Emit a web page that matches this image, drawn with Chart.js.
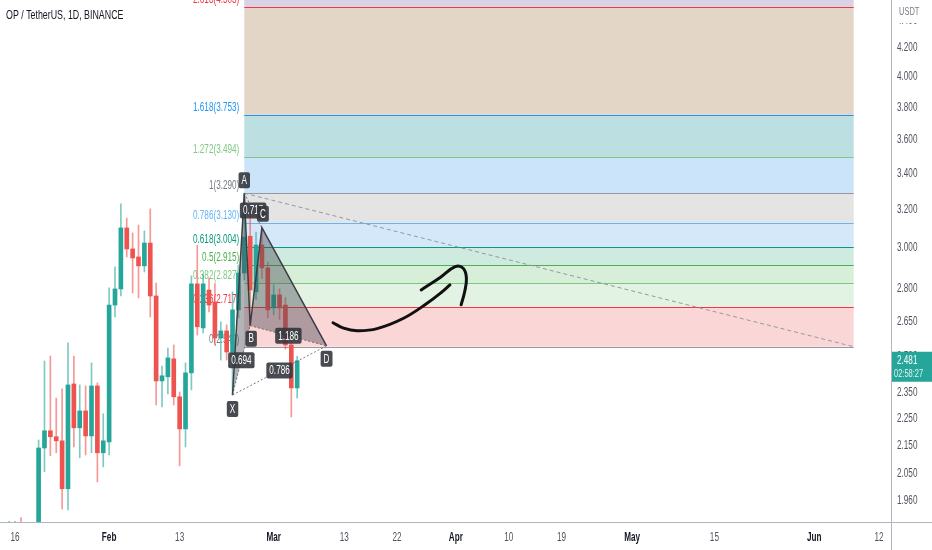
<!DOCTYPE html>
<html>
<head>
<meta charset="utf-8">
<script src="https://cdn.jsdelivr.net/npm/chart.js@4.4.0/dist/chart.umd.min.js"></script>
<style>
  html, body { margin: 0; padding: 0; background: #fff; }
  #wrap { width: 932px; height: 550px; }
</style>
</head>
<body>
<div id="wrap"><canvas id="chart" width="932" height="550"></canvas></div>
<script>
// daily candles, x = day of year 2023 (Jan 1 = 0)
const days   = [14, 15, 16, 17, 18, 19, 20, 21, 22, 23, 24, 25, 26, 27, 28, 29, 30, 31, 32, 33, 34, 35, 36, 37, 38, 39, 40, 41, 42, 43, 44, 45, 46, 47, 48, 49, 50, 51, 52, 53, 54, 55, 56, 57, 58, 59, 60, 61, 62, 63];
const opens  = [1.84, 1.86, 1.87, 1.81, 1.79, 1.80, 2.142, 2.205, 2.183, 2.168, 2.000, 2.386, 2.216, 2.280, 2.186, 2.378, 2.125, 2.164, 2.725, 2.800, 3.103, 2.995, 2.955, 2.911, 3.025, 2.767, 2.398, 2.415, 2.489, 2.335, 2.212, 2.431, 2.824, 2.622, 2.795, 2.739, 2.578, 2.609, 2.518, 2.703, 2.876, 3.060, 2.786, 3.015, 2.901, 2.712, 2.772, 2.725, 2.548, 2.370];
const highs  = [1.893, 1.893, 1.905, 1.87, 1.86, 2.171, 2.480, 2.501, 2.330, 2.366, 2.557, 2.501, 2.382, 2.378, 2.472, 2.390, 2.269, 2.805, 2.906, 3.231, 3.155, 3.077, 3.118, 3.087, 3.204, 2.828, 2.459, 2.535, 2.548, 2.354, 2.472, 2.862, 3.015, 2.870, 2.852, 2.828, 2.649, 2.636, 2.786, 2.915, 3.290, 3.200, 3.082, 3.104, 2.930, 2.820, 2.800, 2.760, 2.560, 2.500];
const lows   = [1.78, 1.80, 1.79, 1.76, 1.75, 1.78, 2.058, 2.114, 2.125, 1.933, 1.930, 2.146, 2.107, 2.117, 2.125, 2.023, 2.075, 2.117, 2.671, 2.767, 2.955, 2.781, 2.758, 2.881, 2.671, 2.303, 2.295, 2.346, 2.303, 2.079, 2.146, 2.362, 2.591, 2.600, 2.694, 2.548, 2.484, 2.484, 2.342, 2.667, 2.843, 2.636, 2.750, 2.850, 2.667, 2.680, 2.660, 2.530, 2.257, 2.330];
const closes = [1.86, 1.87, 1.81, 1.79, 1.80, 2.142, 2.205, 2.183, 2.168, 2.000, 2.382, 2.216, 2.280, 2.186, 2.378, 2.125, 2.168, 2.725, 2.800, 3.103, 2.995, 2.950, 2.911, 3.025, 2.767, 2.398, 2.419, 2.493, 2.335, 2.212, 2.431, 2.824, 2.627, 2.824, 2.725, 2.578, 2.609, 2.518, 2.703, 2.876, 3.056, 2.795, 3.015, 2.901, 2.703, 2.772, 2.712, 2.548, 2.370, 2.481];

const yTicks = [4.4, 4.2, 4.0, 3.8, 3.6, 3.4, 3.2, 3.0, 2.8, 2.65, 2.5, 2.35, 2.25, 2.15, 2.05, 1.96];
const xTickDays = [15, 31, 43, 59, 71, 80, 90, 99, 108, 120, 134, 151, 162];
const xTickLabels = ['16', 'Feb', '13', 'Mar', '13', '22', 'Apr', '10', '19', 'May', '15', 'Jun', '12'];
const monthLabels = ['Feb', 'Mar', 'Apr', 'May', 'Jun'];

// fib retracement drawn from A down to the right
const fibHigh = 3.290;
const fibLow = 2.5404;
const fibStartDay = 54;
const fibEndDay = 157.7;
const fibLevels = [0, 0.236, 0.382, 0.5, 0.618, 0.786, 1, 1.272, 1.618, 2.618, 3.618];
const fibLineColors = ['#9598a1', '#f23645', '#81c784', '#4caf50', '#089981', '#64b5f6', '#9598a1', '#81c784', '#2196f3', '#f23645', '#9c27b0'];
const fibZoneColors = ['rgba(247,180,182,0.55)', 'rgba(200,232,200,0.5)', 'rgba(176,222,180,0.5)', 'rgba(160,214,190,0.5)',
                       'rgba(178,214,245,0.55)', 'rgba(205,205,208,0.55)', 'rgba(160,205,245,0.55)', 'rgba(140,200,204,0.58)',
                       'rgba(206,180,152,0.55)', 'rgba(190,180,212,0.6)'];

// XABCD pattern
const patNames  = ['X', 'A', 'B', 'C', 'D'];
const patDays   = [52, 54, 55, 57, 68];
const patPrices = [2.342, 3.290, 2.632, 3.104, 2.544];
const patRatios = [['X', 'B', '0.694'], ['A', 'C', '0.717'], ['B', 'D', '1.186'], ['X', 'D', '0.786']];

// hand drawn arrow
const arrowDays1   = [69.1, 70.9, 73.2, 76.6, 81.1, 85.1, 87.7, 89.0];
const arrowPrices1 = [2.645, 2.621, 2.610, 2.619, 2.665, 2.733, 2.787, 2.819];
const arrowDays2   = [84.1, 87.4, 89.9, 91.25, 91.8, 91.5, 90.9];
const arrowPrices2 = [2.795, 2.856, 2.907, 2.899, 2.851, 2.787, 2.726];

const countdown = '02:58:27';

const up = '#26a69a', down = '#ef5350';
const isUp = i => closes[i] >= opens[i];
const fontFam = "'Liberation Sans', 'DejaVu Sans', sans-serif";
const SX = 0.68; // the screenshot is squeezed sideways, so text is too

// draw text squeezed horizontally around its anchor point
function textN(ctx, txt, x, y, align, baseline) {
  ctx.save();
  ctx.translate(x, y);
  ctx.scale(SX, 1);
  ctx.textAlign = align; ctx.textBaseline = baseline;
  ctx.fillText(txt, 0, 0);
  ctx.restore();
}

const overlay = {
  id: 'overlay',
  beforeDatasetsDraw(chart) {
    const { ctx, chartArea: a, scales: { x, y } } = chart;
    const x0 = x.getPixelForValue(fibStartDay), x1 = x.getPixelForValue(fibEndDay);
    const lv = l => y.getPixelForValue(fibLow + l * (fibHigh - fibLow));
    ctx.save();
    ctx.beginPath(); ctx.rect(a.left, a.top, a.right - a.left, a.bottom - a.top); ctx.clip();
    for (let i = 0; i < fibLevels.length - 1; i++) {
      const yb = lv(fibLevels[i]), yt = lv(fibLevels[i + 1]);
      ctx.fillStyle = fibZoneColors[i];
      ctx.fillRect(x0, yt, x1 - x0, yb - yt);
    }
    for (let i = 0; i < fibLevels.length - 1; i++) {
      const yy = Math.round(lv(fibLevels[i])) + 0.5;
      ctx.strokeStyle = fibLineColors[i]; ctx.lineWidth = 1;
      ctx.beginPath(); ctx.moveTo(x0, yy); ctx.lineTo(x1, yy); ctx.stroke();
    }
    ctx.restore();
    ctx.save();
    ctx.font = '12px ' + fontFam;
    for (let i = 0; i < fibLevels.length - 1; i++) {
      const p = fibLow + fibLevels[i] * (fibHigh - fibLow);
      ctx.fillStyle = fibLineColors[i] === '#9598a1' ? '#787b86' : fibLineColors[i];
      textN(ctx, fibLevels[i] + '(' + p.toFixed(3) + ')', x0 - 5, lv(fibLevels[i]) - 4, 'right', 'alphabetic');
    }
    // dashed trend line
    ctx.strokeStyle = '#9598a1'; ctx.lineWidth = 1; ctx.setLineDash([4, 3]);
    ctx.beginPath();
    ctx.moveTo(x0, y.getPixelForValue(fibHigh));
    ctx.lineTo(x1, y.getPixelForValue(fibLow));
    ctx.stroke();
    ctx.restore();
  },
  afterDatasetsDraw(chart) {
    const { ctx, scales: { x, y } } = chart;
    const pt = {};
    patNames.forEach((n, i) => { pt[n] = [x.getPixelForValue(patDays[i]), y.getPixelForValue(patPrices[i])]; });
    ctx.save();
    ctx.fillStyle = 'rgba(70,74,82,0.42)';
    [['X', 'A', 'B'], ['B', 'C', 'D']].forEach(t => {
      ctx.beginPath();
      ctx.moveTo(...pt[t[0]]); ctx.lineTo(...pt[t[1]]); ctx.lineTo(...pt[t[2]]); ctx.closePath();
      ctx.fill();
    });
    ctx.strokeStyle = '#3a3d45'; ctx.lineWidth = 1.5;
    ctx.beginPath();
    ctx.moveTo(...pt.X); ['A', 'B', 'C', 'D'].forEach(n => ctx.lineTo(...pt[n]));
    ctx.stroke();
    ctx.setLineDash([2, 2]); ctx.lineWidth = 1; ctx.strokeStyle = 'rgba(90,90,90,0.8)';
    patRatios.forEach(r => {
      ctx.beginPath(); ctx.moveTo(...pt[r[0]]); ctx.lineTo(...pt[r[1]]); ctx.stroke();
    });
    ctx.setLineDash([]);
    ctx.font = '12px ' + fontFam;
    const box = (cx, cy, txt, padX) => {
      const w = ctx.measureText(txt).width * SX + padX * 2, h = 16;
      ctx.fillStyle = 'rgba(52,55,62,0.9)';
      ctx.beginPath(); ctx.roundRect(cx - w / 2, cy - h / 2, w, h, 2); ctx.fill();
      ctx.fillStyle = '#fff';
      textN(ctx, txt, cx, cy + 0.5, 'center', 'middle');
    };
    patRatios.forEach(r => {
      const a = pt[r[0]], b = pt[r[1]];
      box((a[0] + b[0]) / 2, (a[1] + b[1]) / 2, r[2], 3);
    });
    const offs = { X: [0, 14], A: [0, -13], B: [1, 13], C: [1, -14], D: [0, 13] };
    patNames.forEach(n => box(pt[n][0] + offs[n][0], pt[n][1] + offs[n][1], n, 3));
    ctx.restore();
  },
  afterDraw(chart) {
    const { ctx, chartArea: a, scales: { x, y } } = chart;
    ctx.save();
    ctx.strokeStyle = '#b2b5be'; ctx.lineWidth = 1;
    ctx.beginPath();
    ctx.moveTo(a.right + 0.5, 0); ctx.lineTo(a.right + 0.5, chart.height);
    ctx.moveTo(0, a.bottom + 0.5); ctx.lineTo(chart.width, a.bottom + 0.5);
    ctx.stroke();
    // axis labels
    ctx.font = '12px ' + fontFam; ctx.fillStyle = '#50535e';
    yTicks.forEach(v => textN(ctx, v.toFixed(3), a.right + 6, y.getPixelForValue(v), 'left', 'middle'));
    xTickDays.forEach((d, i) => {
      const m = monthLabels.includes(xTickLabels[i]);
      ctx.font = (m ? 'bold ' : '') + '12px ' + fontFam;
      ctx.fillStyle = m ? '#131722' : '#50535e';
      textN(ctx, xTickLabels[i], x.getPixelForValue(d), a.bottom + 16, 'center', 'middle');
    });
    // title
    ctx.fillStyle = '#131722'; ctx.font = '13px ' + fontFam;
    textN(ctx, 'OP / TetherUS, 1D, BINANCE', 6, 15, 'left', 'middle');
    // currency label
    ctx.fillStyle = '#fff'; ctx.fillRect(a.right + 1, 0, chart.width - a.right, 23);
    ctx.fillStyle = '#787b86'; ctx.font = '11px ' + fontFam;
    textN(ctx, 'USDT', a.right + 8, 12, 'left', 'middle');
    // last price label
    const last = closes[closes.length - 1];
    const py = y.getPixelForValue(last);
    ctx.fillStyle = up;
    ctx.fillRect(a.right + 1, py - 9, chart.width - a.right, 30);
    ctx.fillStyle = '#fff'; ctx.font = '12px ' + fontFam;
    textN(ctx, last.toFixed(3), a.right + 6, py, 'left', 'middle');
    ctx.fillStyle = 'rgba(255,255,255,0.85)'; ctx.font = '11px ' + fontFam;
    textN(ctx, countdown, a.right + 3, py + 13, 'left', 'middle');
    ctx.restore();
  }
};

const wickData = days.map((d, i) => ({ x: d, y: [lows[i], highs[i]] }));
const bodyData = days.map((d, i) => ({ x: d, y: [Math.min(opens[i], closes[i]), Math.max(opens[i], closes[i])] }));

new Chart(document.getElementById('chart').getContext('2d'), {
  type: 'bar',
  data: {
    datasets: [
      { type: 'line', data: arrowDays1.map((d, i) => ({ x: d, y: arrowPrices1[i] })), borderColor: '#111', borderWidth: 3,
        pointRadius: 0, tension: 0.4, borderCapStyle: 'round', borderJoinStyle: 'round' },
      { type: 'line', data: arrowDays2.map((d, i) => ({ x: d, y: arrowPrices2[i] })), borderColor: '#111', borderWidth: 3,
        pointRadius: 0, tension: 0.4, borderCapStyle: 'round', borderJoinStyle: 'round' },
      { data: bodyData, barThickness: 4, minBarLength: 1, grouped: false, borderWidth: 0,
        backgroundColor: c => isUp(c.dataIndex) ? up : down },
      { data: wickData, barThickness: 1, grouped: false, borderWidth: 0,
        backgroundColor: c => isUp(c.dataIndex) ? 'rgba(38,166,154,0.6)' : 'rgba(239,83,80,0.6)' }
    ]
  },
  options: {
    responsive: false,
    animation: false,
    layout: { padding: 0 },
    plugins: { legend: { display: false }, tooltip: { enabled: false } },
    scales: {
      x: {
        type: 'linear', min: 12.43, max: 164.05, offset: false,
        grid: { display: false, drawTicks: false }, border: { display: false },
        afterBuildTicks: s => { s.ticks = xTickDays.map(v => ({ value: v })); },
        afterFit: s => { s.height = 28; s.paddingLeft = 0; s.paddingRight = 0; },
        ticks: { display: false }
      },
      y: {
        type: 'logarithmic', position: 'right', min: 1.891, max: 4.555,
        grid: { display: false, drawTicks: false }, border: { display: false },
        afterBuildTicks: s => { s.ticks = yTicks.map(v => ({ value: v })); },
        afterFit: s => { s.width = 41; s.paddingTop = 0; s.paddingBottom = 0; },
        ticks: { display: false }
      }
    }
  },
  plugins: [overlay]
});
</script>
</body>
</html>
